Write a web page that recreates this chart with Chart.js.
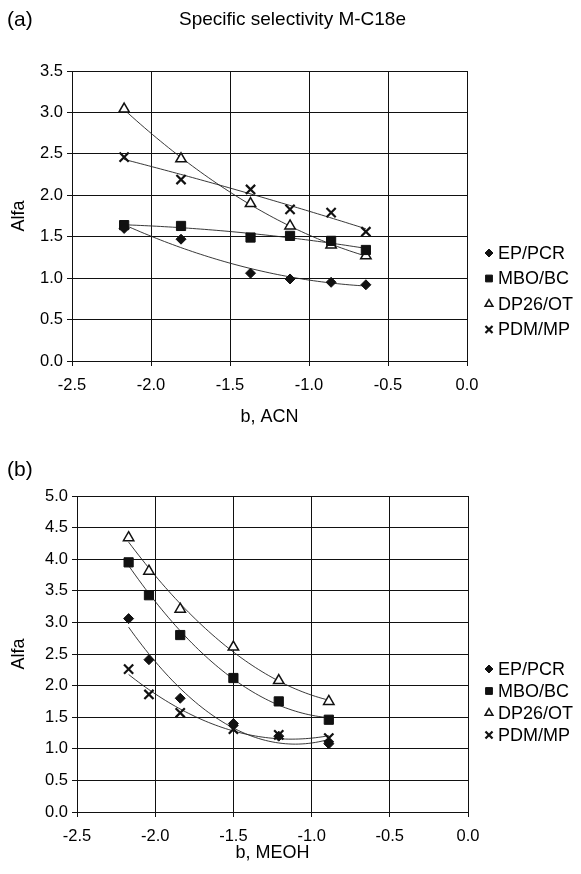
<!DOCTYPE html>
<html>
<head>
<meta charset="utf-8">
<script src="https://cdn.jsdelivr.net/npm/chart.js@4.4.1/dist/chart.umd.min.js"></script>
<style>
    html, body { margin: 0; padding: 0; background: #fff; }
    body { width: 581px; height: 874px; position: relative; overflow: hidden;
           font-family: "Liberation Sans", Arial, sans-serif; color: #000; }
    .wrap { position: absolute; left: 0; width: 581px; }
    #wrapA { top: 0; height: 440px; }
    #wrapB { top: 440px; height: 434px; }
    .tag { position: absolute; font-size: 21px; line-height: 1; }
</style>
</head>
<body>
<div id="wrapA" class="wrap"><canvas id="chartA" width="581" height="440"></canvas></div>
<div id="wrapB" class="wrap"><canvas id="chartB" width="581" height="434"></canvas></div>
<div class="tag" style="left:7px; top:8px;">(a)</div>
<div class="tag" style="left:0; width:581px; top:9px; padding-left:2px; text-align:center; font-size:19px;">Specific selectivity M-C18e</div>
<div class="tag" style="left:7px; top:458px;">(b)</div>

<script>
// series names
const seriesNames = ['EP/PCR', 'MBO/BC', 'DP26/OT', 'PDM/MP'];

// (a) b, ACN
const acnB = [-2.17, -1.81, -1.37, -1.12, -0.86, -0.64];
const acnEP   = [1.60, 1.47, 1.06, 0.99, 0.95, 0.92];
const acnMBO  = [1.64, 1.63, 1.49, 1.51, 1.45, 1.34];
const acnDP26 = [3.04, 2.44, 1.90, 1.63, 1.40, 1.27];
const acnPDM  = [2.46, 2.19, 2.07, 1.83, 1.79, 1.56];

// (b) b, MEOH
const meohB = [-2.17, -2.04, -1.84, -1.50, -1.21, -0.89];
const meohEP   = [3.06, 2.41, 1.80, 1.40, 1.20, 1.08];
const meohMBO  = [3.95, 3.43, 2.80, 2.12, 1.75, 1.46];
const meohDP26 = [4.34, 3.81, 3.21, 2.61, 2.08, 1.75];
const meohPDM  = [2.26, 1.86, 1.57, 1.31, 1.22, 1.17];

const xTicks = [-2.5, -2.0, -1.5, -1.0, -0.5, 0.0];

const FONT = '"Liberation Sans", Arial, sans-serif';
const INK = '#111';

const markers = [
    { pointStyle: 'rectRot',  radius: 5,   bg: INK,    bw: 1,   legendR: 4 },
    { pointStyle: 'rect',     radius: 6.5, bg: INK,    bw: 1,   legendR: 4.8 },
    { pointStyle: 'triangle', radius: 6,   bg: '#fff', bw: 1.5, legendR: 4.5 },
    { pointStyle: 'crossRot', radius: 6.5, bg: INK,    bw: 2.2, legendR: 5 }
];

function makeDatasets(xs, seriesList) {
    return seriesList.map((ys, i) => ({
        label: seriesNames[i],
        data: xs.map((x, j) => ({ x: x, y: ys[j] })),
        showLine: false,
        pointStyle: markers[i].pointStyle,
        pointRadius: markers[i].radius,
        pointHoverRadius: markers[i].radius,
        pointBackgroundColor: markers[i].bg,
        pointBorderColor: INK,
        pointBorderWidth: markers[i].bw
    }));
}

// least squares quadratic, like the spreadsheet trendline
function quadFit(pts) {
    let n = pts.length, sx = 0, sx2 = 0, sx3 = 0, sx4 = 0, sy = 0, sxy = 0, sx2y = 0;
    pts.forEach(p => {
        const x = p.x, y = p.y;
        sx += x; sx2 += x * x; sx3 += x * x * x; sx4 += x * x * x * x;
        sy += y; sxy += x * y; sx2y += x * x * y;
    });
    const det3 = (m) => m[0][0] * (m[1][1] * m[2][2] - m[1][2] * m[2][1])
        - m[0][1] * (m[1][0] * m[2][2] - m[1][2] * m[2][0])
        + m[0][2] * (m[1][0] * m[2][1] - m[1][1] * m[2][0]);
    const A = [[n, sx, sx2], [sx, sx2, sx3], [sx2, sx3, sx4]];
    const B = [sy, sxy, sx2y];
    const D = det3(A);
    const coef = [0, 1, 2].map(k => det3(A.map((row, r) => row.map((v, c) => c === k ? B[r] : v))) / D);
    return x => coef[0] + coef[1] * x + coef[2] * x * x;
}

const trendPlugin = {
    id: 'trend',
    beforeDatasetsDraw(chart) {
        const ctx = chart.ctx;
        const xs = chart.scales.x, ys = chart.scales.y;
        ctx.save();
        ctx.beginPath();
        ctx.rect(chart.chartArea.left, chart.chartArea.top,
                 chart.chartArea.right - chart.chartArea.left, chart.chartArea.bottom - chart.chartArea.top);
        ctx.clip();
        ctx.strokeStyle = '#222';
        ctx.lineWidth = 0.9;
        chart.data.datasets.forEach(ds => {
            const f = quadFit(ds.data);
            const x0 = Math.min(...ds.data.map(p => p.x));
            const x1 = Math.max(...ds.data.map(p => p.x));
            ctx.beginPath();
            for (let k = 0; k <= 60; k++) {
                const x = x0 + (x1 - x0) * k / 60;
                const px = xs.getPixelForValue(x), py = ys.getPixelForValue(f(x));
                if (k === 0) ctx.moveTo(px, py); else ctx.lineTo(px, py);
            }
            ctx.stroke();
        });
        ctx.restore();
    },
    afterDraw(chart, args, opts) {
        // legend on the right
        const ctx = chart.ctx;
        ctx.save();
        ctx.font = '18px ' + FONT;
        ctx.textBaseline = 'middle';
        chart.data.datasets.forEach((ds, i) => {
            const y = opts.top + i * opts.gap;
            const m = markers[i];
            ctx.fillStyle = m.bg;
            ctx.strokeStyle = INK;
            ctx.lineWidth = m.bw;
            Chart.helpers.drawPoint(ctx, { pointStyle: m.pointStyle, radius: m.legendR, borderWidth: m.bw }, opts.mx, y);
            ctx.fillStyle = '#000';
            ctx.fillText(ds.label, opts.mx + 9, y + 1);
        });
        ctx.restore();
    }
};

function makeChart(id, xs, seriesList, yMax, box, xTitle, legendPos) {
    const canvas = document.getElementById(id);
    return new Chart(canvas.getContext('2d'), {
        type: 'scatter',
        data: { datasets: makeDatasets(xs, seriesList) },
        plugins: [trendPlugin],
        options: {
            responsive: false,
            animation: false,
            events: [],
            layout: { padding: { left: 0, top: box.top, right: canvas.width - box.right, bottom: 0 } },
            plugins: {
                legend: { display: false },
                tooltip: { enabled: false },
                trend: legendPos
            },
            scales: {
                x: {
                    type: 'linear', min: -2.5, max: 0,
                    afterBuildTicks: s => { s.ticks = xTicks.map(v => ({ value: v })); },
                    afterFit: s => { s.height = canvas.height - box.bottom; },
                    ticks: { color: '#000', font: { family: FONT, size: 16.5 }, padding: 10,
                             callback: v => v.toFixed(1) },
                    grid: { color: INK, lineWidth: 1, tickLength: 5 },
                    border: { color: INK, width: 1 },
                    title: { display: true, text: xTitle, color: '#000',
                             font: { family: FONT, size: 18 }, padding: { bottom: box.titleBottom } }
                },
                y: {
                    min: 0, max: yMax,
                    afterFit: s => { s.width = box.left; },
                    ticks: { stepSize: 0.5, color: '#000', font: { family: FONT, size: 16.5 }, padding: 4,
                             callback: v => v.toFixed(1) },
                    grid: { color: INK, lineWidth: 1, tickLength: 5 },
                    border: { color: INK, width: 1 },
                    title: { display: true, text: 'Alfa', color: '#000',
                             font: { family: FONT, size: 18 }, padding: { top: 8 } }
                }
            }
        }
    });
}

makeChart('chartA', acnB, [acnEP, acnMBO, acnDP26, acnPDM], 3.5,
    { left: 72, right: 467, top: 71, bottom: 361, titleBottom: 12 }, 'b, ACN',
    { mx: 489, top: 253, gap: 25.5 });

makeChart('chartB', meohB, [meohEP, meohMBO, meohDP26, meohPDM], 5.0,
    { left: 77, right: 468, top: 56, bottom: 372, titleBottom: 10 }, 'b, MEOH',
    { mx: 489, top: 229, gap: 22 });
</script>
</body>
</html>
